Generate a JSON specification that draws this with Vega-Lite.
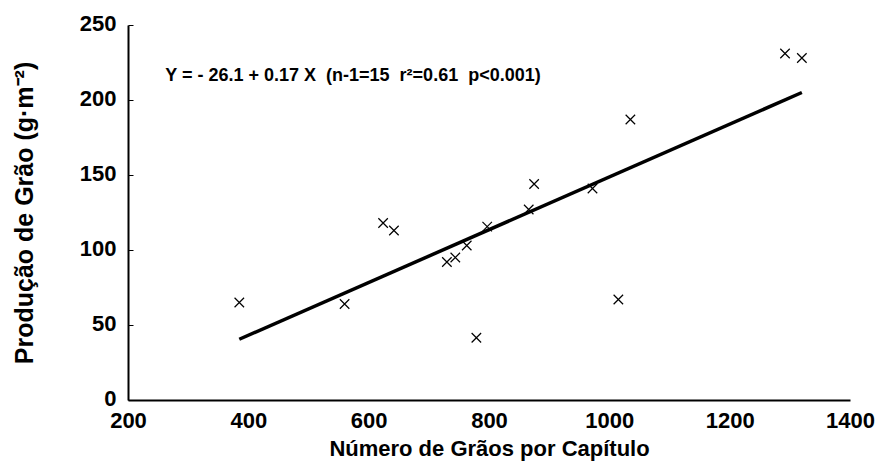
{
  "$schema": "https://vega.github.io/schema/vega-lite/v6.json",
  "width": 722,
  "height": 375,
  "autosize": {"type": "none"},
  "padding": {"left": 128, "top": 25, "right": 32, "bottom": 73},
  "background": "white",
  "config": {
    "view": {"stroke": null},
    "font": "Liberation Sans",
    "axis": {
      "grid": false,
      "domainColor": "black",
      "domainWidth": 2,
      "tickColor": "black",
      "labelFont": "Liberation Sans",
      "labelFontWeight": "bold",
      "labelFontSize": 22,
      "labelColor": "black",
      "titleFont": "Liberation Sans",
      "titleFontWeight": "bold",
      "titleColor": "black"
    }
  },
  "datasets": {
    "points": [
      {"graos": 385, "producao": 65},
      {"graos": 560, "producao": 64},
      {"graos": 624, "producao": 118},
      {"graos": 642, "producao": 113},
      {"graos": 730, "producao": 92},
      {"graos": 744, "producao": 95},
      {"graos": 763, "producao": 103},
      {"graos": 779, "producao": 41.5},
      {"graos": 797, "producao": 115.6},
      {"graos": 866, "producao": 127},
      {"graos": 875, "producao": 144},
      {"graos": 972, "producao": 141},
      {"graos": 1015, "producao": 67},
      {"graos": 1035, "producao": 187},
      {"graos": 1292, "producao": 231},
      {"graos": 1320, "producao": 228}
    ],
    "fit": [
      {"graos": 385, "producao": 40.5},
      {"graos": 1320, "producao": 205}
    ],
    "note": [
      {"graos": 262, "producao": 216, "label": "Y = - 26.1 + 0.17 X\u00a0\u00a0(n-1=15\u00a0\u00a0r²=0.61\u00a0\u00a0p<0.001)"}
    ]
  },
  "layer": [
    {
      "data": {"name": "points"},
      "mark": {
        "type": "point",
        "shape": "M-1,-1L1,1M-1,1L1,-1",
        "size": 90,
        "stroke": "black",
        "strokeWidth": 1.2,
        "filled": false,
        "opacity": 1
      },
      "encoding": {
        "x": {
          "field": "graos",
          "type": "quantitative",
          "scale": {"domain": [200, 1400], "nice": false, "zero": false},
          "axis": {
            "title": "Número de Grãos por Capítulo",
            "titleFontSize": 22,
            "format": "d",
            "values": [200, 400, 600, 800, 1000, 1200, 1400],
            "ticks": false,
            "labelPadding": 10,
            "titlePadding": 7,
            "labelFlush": false
          }
        },
        "y": {
          "field": "producao",
          "type": "quantitative",
          "scale": {"domain": [0, 250], "nice": false},
          "axis": {
            "title": "Produção de Grão (g·m⁻²)",
            "titleFontSize": 25,
            "format": "d",
            "values": [0, 50, 100, 150, 200, 250],
            "tickSize": -5,
            "tickWidth": 1,
            "labelPadding": 17,
            "labelOffset": -2,
            "titlePadding": 42
          }
        }
      }
    },
    {
      "data": {"name": "fit"},
      "mark": {"type": "line", "color": "black", "strokeWidth": 3.5},
      "encoding": {
        "x": {"field": "graos", "type": "quantitative"},
        "y": {"field": "producao", "type": "quantitative"}
      }
    },
    {
      "data": {"name": "note"},
      "mark": {
        "type": "text",
        "align": "left",
        "baseline": "middle",
        "font": "Liberation Sans",
        "fontWeight": "bold",
        "fontSize": 18,
        "color": "black"
      },
      "encoding": {
        "x": {"field": "graos", "type": "quantitative"},
        "y": {"field": "producao", "type": "quantitative"},
        "text": {"field": "label"}
      }
    }
  ]
}
